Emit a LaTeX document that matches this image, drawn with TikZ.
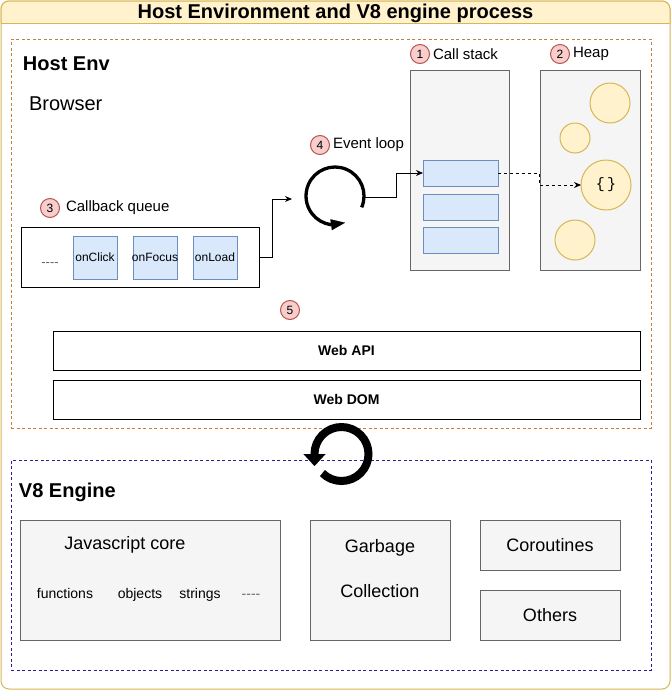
\documentclass[tikz,border=0pt]{standalone}
\usepackage{fontspec}
\setmainfont{Liberation Sans}
\newfontfamily\monof{Liberation Mono}
\usetikzlibrary{arrows.meta}
\definecolor{ybord}{HTML}{D6B656}
\definecolor{yfill}{HTML}{FFF2CC}
\definecolor{hostc}{HTML}{C47F3E}
\definecolor{v8c}{HTML}{2A1E96}
\definecolor{gfill}{HTML}{F5F5F5}
\definecolor{gbord}{HTML}{666666}
\definecolor{bfill}{HTML}{DAE8FC}
\definecolor{bbord}{HTML}{6C8EBF}
\definecolor{rfill}{HTML}{F8CECC}
\definecolor{rbord}{HTML}{B85450}
\newcommand{\myfs}[1]{\fontsize{#1}{#1}\selectfont}
\newcommand{\mydashes}{-{}-{}-{}-}
\begin{document}
\begin{tikzpicture}[x=1pt,y=-1pt,
  every node/.style={inner sep=0pt,outer sep=0pt},
  boxnw/.style={anchor=north west,line width=1pt},
  dashbox/.style={boxnw,dash pattern=on 3pt off 2.5pt},
  graybox/.style={boxnw,draw=gbord,fill=gfill},
  bluebox/.style={boxnw,draw=bbord,fill=bfill},
  blackbox/.style={boxnw,draw=black,fill=white,line width=1pt},
  heapc/.style={circle,draw=ybord,fill=yfill,line width=1pt},
  numc/.style={circle,draw=rbord,fill=rfill,line width=1pt,minimum size=19pt,font=\myfs{12}},
  lbl/.style={anchor=west},
  small/.style={font=\myfs{14},text height=10pt,text depth=3pt},
  conn/.style={line width=1pt,-{Stealth[length=7pt,width=6pt]}},
]
\useasboundingbox (0,0) rectangle (671,691);
% outer container
\node[boxnw,draw=ybord,fill=white,rounded corners=8pt,minimum width=669,minimum height=688] (outer) at (1,1) {};
\draw[ybord,fill=yfill,line width=1pt,rounded corners=8pt] (1,23) -- (1,1) -- (670,1) -- (670,23);
\draw[ybord,line width=1pt] (1,23) -- (670,23);
\node[font=\bfseries\myfs{20}] (title) at (335.5,13) {Host Environment and V8 engine process};

% host env
\node[dashbox,draw=hostc,minimum width=640,minimum height=389] (host) at (11,39) {};
\node[lbl,font=\bfseries\myfs{20}] (hostlbl) at (23,64) {Host Env};
\node[lbl,font=\myfs{20}] (browser) at (29,104) {Browser};

% call stack
\node[graybox,minimum width=99,minimum height=200] (cstack) at (410,70) {};
\node[numc] (n1) at (420,54) {1};
\node[lbl,font=\myfs{15}] (cslbl) at (433,54) {Call stack};
\node[bluebox,minimum width=75,minimum height=26] (cs1) at (423,160) {};
\node[bluebox,minimum width=75,minimum height=26] (cs2) at (423,194) {};
\node[bluebox,minimum width=75,minimum height=26] (cs3) at (423,227) {};

% heap
\node[graybox,minimum width=100,minimum height=200] (heap) at (540,70) {};
\node[numc] (n2) at (560,54) {2};
\node[lbl,font=\myfs{15}] (heaplbl) at (573,54) {Heap};
\node[heapc,minimum size=40] (h1) at (610,103) {};
\node[heapc,minimum size=30] (h2) at (575,138) {};
\node[heapc,minimum size=50,font=\monof\myfs{15}] (hobj) at (606,185) {\{\,\}};
\node[heapc,minimum size=40] (h4) at (575,240) {};

% callback queue
\node[numc] (n3) at (50,208) {3};
\node[lbl,font=\myfs{15}] (cbqlbl) at (66,208) {Callback queue};
\node[blackbox,minimum width=238,minimum height=60] (cbq) at (21,227) {};
\node[font=\myfs{13},text=gbord] (cbqdots) at (50,265) {\mydashes};
\node[bluebox,minimum width=44,minimum height=43] (onclick) at (73,236) {};
\node[font=\myfs{12}] at (onclick.center) {onClick};
\node[bluebox,minimum width=44,minimum height=43] (onfocus) at (133,236) {};
\node[font=\myfs{12}] at (onfocus.center) {onFocus};
\node[bluebox,minimum width=44,minimum height=43] (onload) at (193,236) {};
\node[font=\myfs{12}] at (onload.center) {onLoad};

% event loop
\node[numc] (n4) at (320,145) {4};
\node[lbl,font=\myfs{15}] (evlbl) at (333,145) {Event loop};
\coordinate (evc) at (335,196);
\coordinate (evin) at (292,199);
\coordinate (evout) at (364,197);
\draw[line width=3.3pt,-{Triangle[length=14pt,width=11pt,line width=0.01pt]}]
  ([shift={(23:29)}]evc) arc[start angle=23,end angle=-262,radius=29] -- ++(14,-2);

% connectors
\draw[conn] (cbq.east) -- ++(13,0) |- (evin);
\draw[conn] (evout) -- ++(32,0) |- (cs1.west);
\draw[conn,dash pattern=on 3pt off 3pt] (cs1.east) -- ++(41,0) |- (hobj.west);

% web api / dom
\node[numc] (n5) at (290,310) {5};
\node[blackbox,minimum width=587,minimum height=39] (webapi) at (53,331) {};
\node[font=\bfseries\myfs{14}] at (webapi.center) {Web API};
\node[blackbox,minimum width=587,minimum height=39] (webdom) at (53,380) {};
\node[font=\bfseries\myfs{14}] at (webdom.center) {Web DOM};

% V8 engine
\node[dashbox,draw=v8c,minimum width=640,minimum height=210] (v8) at (11,460) {};
\node[lbl,font=\bfseries\myfs{20}] (v8lbl) at (19,492) {V8 Engine};
\coordinate (v8c) at (341.5,454);
\draw[line width=8pt,-{Triangle[length=12pt,width=22pt,line width=0.01pt]}]
  ([shift={(-225:27)}]v8c) arc[start angle=-225,end angle=-540,radius=27] -- ++(0,12);

\node[graybox,minimum width=260,minimum height=120] (jscore) at (20,520) {};
\node[font=\myfs{18}] at (125,545) {Javascript core};
\node[small] at (65,595) {functions};
\node[small] at (140,595) {objects};
\node[small] at (200,595) {strings};
\node[small,text=gbord] at (251,595) {\mydashes};

\node[graybox,minimum width=140,minimum height=120] (gc) at (310,520) {};
\node[font=\myfs{18}] at (380,548) {Garbage};
\node[font=\myfs{18}] at (380,591) {Collection};

\node[graybox,minimum width=140,minimum height=50] (corout) at (480,520) {};
\node[font=\myfs{18}] at (corout.center) {Coroutines};
\node[graybox,minimum width=140,minimum height=50] (others) at (480,590) {};
\node[font=\myfs{18}] at (others.center) {Others};
\end{tikzpicture}
\end{document}
